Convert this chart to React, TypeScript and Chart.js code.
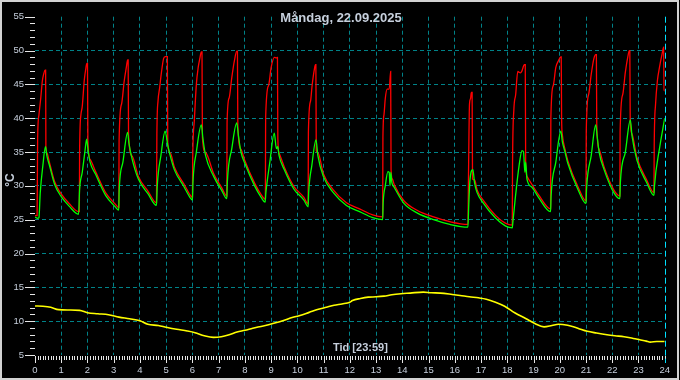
import React, { useEffect, useRef } from "react";
import { Chart, registerables } from "chart.js";

Chart.register(...registerables);

const TITLE = "Måndag, 22.09.2025";
const X_LABEL = "Tid [23:59]";
const Y_LABEL = "°C";
const X_MIN = 0;
const X_MAX = 24;
const Y_MIN = 5;
const Y_MAX = 55;

const redHours = [
  0, 0.08, 0.1, 0.15, 0.22, 0.28, 0.33, 0.38, 0.405, 0.415, 0.45, 0.56, 0.75, 1.0, 1.3, 1.66,
  1.69, 1.7, 1.75, 1.8, 1.88, 1.94, 1.97, 2.0, 2.015, 2.1, 2.31, 2.69, 3.06, 3.19,
  3.195, 3.205, 3.3, 3.4, 3.48, 3.53, 3.55, 3.565, 3.7, 3.94, 4.31, 4.63,
  4.645, 4.69, 4.75, 4.82, 4.9, 4.96, 5.045, 5.06, 5.15, 5.31, 5.69, 5.94, 6.0,
  6.01, 6.07, 6.15, 6.22, 6.28, 6.34, 6.365, 6.38, 6.5, 6.81, 7.12, 7.31,
  7.32, 7.4, 7.5, 7.6, 7.69, 7.715, 7.73, 7.85, 8.0, 8.37, 8.62, 8.78,
  8.79, 8.9, 9.0, 9.12, 9.2, 9.24, 9.255, 9.3, 9.5, 9.87, 10.25, 10.41,
  10.42, 10.5, 10.56, 10.65, 10.69, 10.705, 10.72, 10.78, 10.99, 11.37, 11.87, 12.37, 12.87, 13.25,
  13.26, 13.3, 13.35, 13.42, 13.5, 13.555, 13.57, 13.62, 13.69, 14.06, 14.56, 15.19, 15.81, 16.5,
  16.52, 16.56, 16.6, 16.63, 16.66, 16.675, 16.75, 16.85, 17.06, 17.56, 17.94, 18.19,
  18.2, 18.25, 18.32, 18.4, 18.5, 18.56, 18.65, 18.685, 18.7, 18.75, 18.94, 19.19, 19.65,
  19.66, 19.75, 19.85, 19.95, 20.04, 20.055, 20.07, 20.1, 20.2, 20.31, 20.69, 21.0,
  21.01, 21.1, 21.2, 21.3, 21.37, 21.395, 21.41, 21.5, 21.69, 22.06, 22.29,
  22.3, 22.4, 22.5, 22.6, 22.65, 22.67, 22.685, 22.75, 22.94, 23.31, 23.59,
  23.6, 23.65, 23.72, 23.8, 23.9, 23.96, 23.975, 24.0,
];
const redValues = [
  25.6, 25.6, 36.9, 40.5, 43.0, 45.5, 46.5, 47.1, 47.1, 35.9, 34.9, 33.3, 30.6, 28.8, 27.4, 26.2,
  26.2, 35.0, 40.5, 41.7, 45.7, 47.4, 48.1, 48.1, 36.7, 33.9, 32.1, 29.0, 27.3, 26.8,
  26.8, 36.7, 42.1, 45.5, 47.5, 48.6, 48.6, 37.6, 34.4, 31.4, 29.2, 27.5,
  37.6, 42.6, 44.5, 46.8, 48.8, 49.1, 49.1, 36.2, 34.9, 32.8, 30.2, 28.5, 28.3,
  33.8, 39.5, 45.0, 47.5, 48.8, 49.8, 49.8, 37.2, 34.9, 31.8, 29.7, 28.5,
  39.3, 43.0, 46.0, 48.5, 49.9, 49.9, 39.0, 35.4, 33.7, 30.4, 28.7, 28.0,
  40.0, 44.8, 47.5, 49.0, 48.9, 49.0, 37.0, 34.9, 32.8, 29.9, 28.3, 27.3,
  37.9, 42.5, 44.8, 47.3, 47.9, 47.9, 35.2, 34.9, 31.8, 29.4, 27.5, 26.6, 25.7, 25.4,
  37.1, 40.5, 42.9, 44.3, 44.3, 46.9, 32.4, 31.0, 30.2, 27.8, 26.4, 25.4, 24.7, 24.3,
  31.0, 42.1, 42.9, 43.8, 43.8, 31.0, 30.9, 29.4, 28.0, 25.6, 24.45, 24.2,
  33.0, 41.2, 43.5, 46.9, 46.7, 47.0, 47.9, 47.9, 33.7, 31.4, 30.2, 28.7, 26.6,
  40.0, 44.8, 47.5, 48.5, 49.05, 49.05, 40.0, 37.5, 35.4, 33.7, 29.9, 27.8,
  38.1, 43.5, 46.5, 48.8, 49.4, 49.4, 39.0, 35.4, 32.8, 29.4, 28.5,
  38.0, 43.5, 46.8, 49.2, 50.0, 50.0, 39.9, 37.7, 34.2, 30.9, 29.0,
  36.0, 42.0, 45.5, 47.5, 49.5, 50.5, 44.3, 44.0,
];

const greenHours = [
  0, 0.1, 0.15, 0.2, 0.3, 0.4, 0.45, 0.56, 0.75, 1.0, 1.3, 1.66,
  1.7, 1.8, 1.9, 1.97, 2.02, 2.1, 2.31, 2.69, 3.06, 3.19,
  3.21, 3.35, 3.53, 3.58, 3.7, 3.94, 4.31, 4.63,
  4.66, 4.8, 4.96, 5.06, 5.15, 5.31, 5.69, 5.94, 6.0,
  6.02, 6.15, 6.34, 6.4, 6.5, 6.81, 7.12, 7.31,
  7.33, 7.5, 7.69, 7.75, 7.85, 8.0, 8.37, 8.62, 8.77,
  8.8, 8.95, 9.12, 9.2, 9.25, 9.3, 9.5, 9.87, 10.25, 10.41,
  10.43, 10.55, 10.71, 10.78, 10.99, 11.37, 11.87, 12.37, 12.87, 13.25,
  13.27, 13.35, 13.45, 13.5, 13.53, 13.56, 13.6, 13.69, 14.06, 14.56, 15.19, 15.81, 16.5,
  16.53, 16.58, 16.69, 16.75, 16.85, 17.06, 17.56, 17.94, 18.19,
  18.21, 18.3, 18.45, 18.56, 18.62, 18.67, 18.7, 18.75, 18.94, 19.19, 19.65,
  19.67, 19.85, 20.04, 20.1, 20.2, 20.31, 20.69, 21.0,
  21.02, 21.2, 21.37, 21.42, 21.5, 21.69, 22.06, 22.29,
  22.31, 22.5, 22.69, 22.75, 22.94, 23.31, 23.59,
  23.61, 23.8, 24.0,
];
const greenValues = [
  25.4, 25.2, 25.3, 29.0, 33.0, 35.8, 34.5, 32.9, 30.2, 28.4, 27.0, 25.8,
  29.5, 32.0, 35.0, 36.9, 35.3, 33.5, 31.7, 28.6, 26.9, 26.4,
  29.5, 33.5, 37.9, 36.3, 34.0, 31.0, 28.8, 27.1,
  30.0, 34.5, 38.1, 36.0, 34.5, 32.4, 29.8, 28.1, 27.9,
  30.5, 35.0, 39.0, 37.0, 34.5, 31.4, 29.3, 28.1,
  30.5, 35.5, 39.3, 37.5, 35.0, 33.3, 30.0, 28.3, 27.6,
  29.0, 33.5, 37.8, 35.5, 35.8, 34.5, 32.4, 29.5, 27.9, 26.9,
  29.0, 33.0, 36.8, 34.5, 31.4, 29.0, 27.1, 26.2, 25.3, 25.0,
  27.5, 30.0, 32.1, 32.0, 30.0, 32.0, 30.5, 29.8, 27.4, 26.0, 25.0, 24.3, 23.9,
  27.0, 31.0, 32.4, 30.5, 29.0, 27.6, 25.2, 24.05, 23.8,
  24.5, 28.0, 33.0, 35.2, 35.0, 32.0, 33.5, 31.0, 29.8, 28.3, 26.2,
  28.5, 33.5, 38.1, 36.5, 35.0, 33.3, 29.5, 27.4,
  29.5, 34.5, 39.0, 37.5, 35.0, 32.4, 29.0, 28.1,
  30.5, 35.0, 39.75, 37.5, 33.8, 30.5, 28.6,
  30.0, 35.5, 40.0,
];

const yellowHours = [
  0, 0.3, 0.6, 0.9, 1.3, 1.7, 2.0, 2.4, 2.8, 3.2, 3.6, 4.0, 4.3, 4.7, 5.0, 5.4, 5.8, 6.1, 6.45, 6.8,
  7.1, 7.4, 7.7, 8.0, 8.3, 8.7, 9.1, 9.5, 9.8, 10.1, 10.45, 10.8, 11.1, 11.4, 11.7, 12.0, 12.1, 12.4,
  12.7, 13.0, 13.3, 13.6, 13.95, 14.3, 14.8, 15.1, 15.45, 15.9, 16.2, 16.55, 16.9, 17.2, 17.55, 17.9,
  18.3, 18.7, 19.05, 19.4, 19.7, 19.95, 20.3, 20.55, 20.8, 21.05, 21.4, 21.8, 22.1, 22.45, 22.8, 23.05,
  23.3, 23.45, 23.7, 24.0,
];
const yellowValues = [
  12.25, 12.2, 12.05, 11.7, 11.65, 11.6, 11.25, 11.1, 10.95, 10.6, 10.35, 10.05, 9.55, 9.35, 9.1, 8.8, 8.55, 8.3, 7.85, 7.6,
  7.7, 8.0, 8.4, 8.65, 8.95, 9.3, 9.7, 10.15, 10.55, 10.85, 11.3, 11.75, 12.05, 12.35, 12.55, 12.8, 13.05, 13.35,
  13.55, 13.6, 13.7, 13.9, 14.05, 14.15, 14.3, 14.2, 14.15, 13.95, 13.8, 13.6, 13.45, 13.25, 12.8, 12.2,
  11.2, 10.4, 9.65, 9.15, 9.35, 9.55, 9.4, 9.15, 8.8, 8.5, 8.25, 8.0, 7.85, 7.7, 7.45, 7.25,
  7.05, 6.9, 7.0, 7.0,
];

const FONT = '"Liberation Sans", Arial, sans-serif';
const TEXT_COLOR = "#c6cfdc";
const GRID_COLOR = "rgb(0,130,136)";
const NOW_COLOR = "#00e0ff";

const toPoints = (xs: number[], ys: number[]) => xs.map((x, i) => ({ x, y: ys[i] }));

const decorPlugin = {
  id: "decor",
  beforeDraw(chart: any) {
    const { ctx, width, height } = chart;
    ctx.save();
    ctx.fillStyle = "#000000";
    ctx.fillRect(0, 0, width, height);
    ctx.restore();
  },
  afterDraw(chart: any) {
    const { ctx, width, height, chartArea: a } = chart;
    const x = chart.scales.x;
    const y = chart.scales.y;
    ctx.save();
    ctx.strokeStyle = "#e6e6e6";
    ctx.lineWidth = 1;
    ctx.beginPath();
    for (let i = X_MIN * 10; i <= X_MAX * 10; i++) {
      const px = Math.round(x.getPixelForValue(i / 10)) + 0.5;
      const major = i % 10 === 0;
      ctx.moveTo(px, a.bottom + 1);
      ctx.lineTo(px, a.bottom + (major ? 8 : 5));
    }
    for (let v = Y_MIN; v <= Y_MAX; v++) {
      const py = Math.round(y.getPixelForValue(v)) + 0.5;
      const major = v % 5 === 0;
      ctx.moveTo(a.left - (major ? 10 : 5), py);
      ctx.lineTo(a.left, py);
    }
    ctx.stroke();
    const nx = Math.round(x.getPixelForValue(X_MAX)) + 0.5;
    ctx.strokeStyle = NOW_COLOR;
    ctx.setLineDash([6, 3]);
    ctx.beginPath();
    ctx.moveTo(nx, a.top);
    ctx.lineTo(nx, a.bottom + 8);
    ctx.stroke();
    ctx.setLineDash([]);
    ctx.fillStyle = TEXT_COLOR;
    ctx.textBaseline = "middle";
    ctx.textAlign = "center";
    ctx.font = `bold 13px ${FONT}`;
    ctx.fillText(TITLE, 341, 18);
    ctx.textAlign = "left";
    ctx.font = `bold 11px ${FONT}`;
    ctx.fillText(X_LABEL, 333, 348);
    ctx.save();
    ctx.translate(11, 180);
    ctx.rotate(-Math.PI / 2);
    ctx.textAlign = "center";
    ctx.font = `bold 12px ${FONT}`;
    ctx.fillText(Y_LABEL, 0, 0);
    ctx.restore();
    ctx.strokeStyle = "#d2d2d2";
    ctx.lineWidth = 2;
    ctx.strokeRect(1, 1, width - 3, height - 2);
    ctx.restore();
  },
};

export default function App() {
  const ref = useRef<HTMLCanvasElement | null>(null);
  useEffect(() => {
    if (!ref.current) return;
    const chart = new Chart(ref.current, {
      type: "line",
      data: {
        datasets: [
          {
            data: toPoints(greenHours, greenValues),
            borderColor: "#00ff00",
            borderWidth: 1.3,
            order: 0,
          },
          {
            data: toPoints(redHours, redValues),
            borderColor: "#ff0000",
            borderWidth: 1.3,
            order: 1,
          },
          {
            data: toPoints(yellowHours, yellowValues),
            borderColor: "#ffff00",
            borderWidth: 1.6,
            order: 2,
          },
        ],
      },
      options: {
        animation: false,
        responsive: false,
        maintainAspectRatio: false,
        devicePixelRatio: 1,
        layout: { padding: { top: 5, right: 5, left: 0, bottom: 0 } },
        elements: {
          point: { radius: 0, hoverRadius: 0 },
          line: { cubicInterpolationMode: "monotone", fill: false },
        },
        plugins: {
          legend: { display: false },
          tooltip: { enabled: false },
          title: { display: false },
        },
        events: [],
        scales: {
          x: {
            type: "linear",
            min: X_MIN,
            max: X_MAX,
            afterFit: (s: any) => {
              s.height = 25;
            },
            ticks: {
              stepSize: 1,
              autoSkip: false,
              maxRotation: 0,
              color: TEXT_COLOR,
              font: { family: FONT, size: 9.5 },
              padding: 10,
            },
            grid: {
              drawTicks: false,
              lineWidth: 1,
              color: (c: any) =>
                c.tick && (c.tick.value === X_MIN || c.tick.value === X_MAX) ? "rgba(0,0,0,0)" : GRID_COLOR,
            },
            border: { display: false, dash: [4, 3] },
          },
          y: {
            type: "linear",
            min: Y_MIN,
            max: Y_MAX,
            afterFit: (s: any) => {
              s.width = 35;
            },
            ticks: {
              stepSize: 5,
              color: TEXT_COLOR,
              font: { family: FONT, size: 9.5 },
              padding: 11,
            },
            grid: {
              drawTicks: false,
              lineWidth: 1,
              color: (c: any) =>
                c.tick && (c.tick.value === Y_MIN || c.tick.value === Y_MAX) ? "rgba(0,0,0,0)" : GRID_COLOR,
            },
            border: { display: false, dash: [4, 3] },
          },
        },
      },
      plugins: [decorPlugin],
    });
    return () => chart.destroy();
  }, []);
  return (
    <div style={{ position: "fixed", left: 0, top: 0, width: 680, height: 380, background: "#ffffff" }}>
      <canvas ref={ref} width={680} height={380} style={{ display: "block", width: 680, height: 380 }} />
    </div>
  );
}
